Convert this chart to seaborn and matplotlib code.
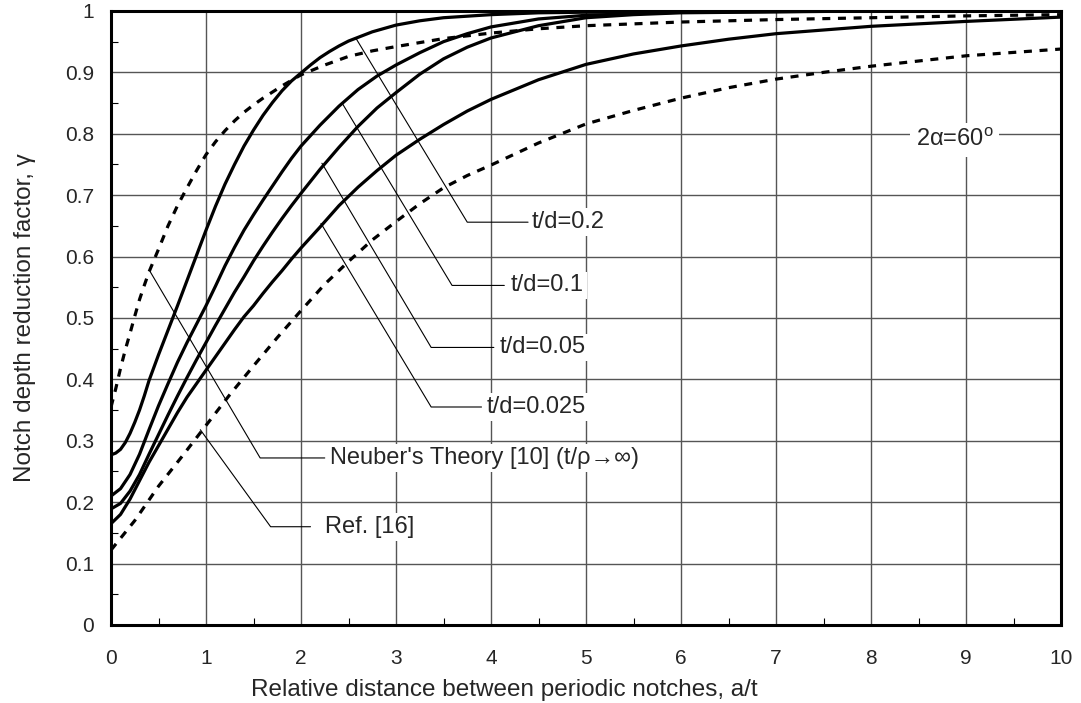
import matplotlib
matplotlib.use('Agg')
import matplotlib.pyplot as plt
from matplotlib.ticker import MultipleLocator, FuncFormatter
import seaborn as sns

# Valores (a/t -> gamma)
x_td02 = [0, 0.05, 0.1, 0.15, 0.2, 0.25, 0.3, 0.35, 0.4, 0.5, 0.6, 0.7, 0.8, 0.9, 1.0, 1.1, 1.2, 1.3, 1.4, 1.5, 1.6, 1.7, 1.8, 1.9, 2.0,
          2.1, 2.2, 2.3, 2.4, 2.5, 2.75, 3.0, 3.25, 3.5, 4.0, 4.5, 5.0, 6.0, 8.0, 10.0]
y_td02 = [0.277, 0.280, 0.286, 0.297, 0.312, 0.330, 0.350, 0.373, 0.398, 0.440, 0.480, 0.520, 0.561, 0.602, 0.643, 0.682, 0.718, 0.750,
          0.780, 0.806, 0.830, 0.851, 0.870, 0.886, 0.899, 0.912, 0.924, 0.934, 0.943, 0.951, 0.966, 0.977, 0.984, 0.989, 0.994, 0.997,
          0.998, 0.999, 1.0, 1.0]

x_td01 = [0, 0.1, 0.2, 0.3, 0.4, 0.5, 0.6, 0.7, 0.8, 0.9, 1.0, 1.1, 1.2, 1.3, 1.4, 1.5, 1.6, 1.7, 1.8, 1.9, 2.0, 2.2, 2.4, 2.6, 2.8,
          3.0, 3.25, 3.5, 3.75, 4.0, 4.5, 5.0, 6.0, 8.0, 10.0]
y_td01 = [0.210, 0.222, 0.245, 0.278, 0.318, 0.357, 0.393, 0.428, 0.460, 0.490, 0.520, 0.552, 0.585, 0.615, 0.643, 0.668, 0.692, 0.715,
          0.738, 0.760, 0.780, 0.814, 0.845, 0.872, 0.894, 0.912, 0.932, 0.950, 0.963, 0.974, 0.987, 0.993, 0.998, 1.0, 1.0]

x_td005 = [0, 0.1, 0.2, 0.3, 0.4, 0.5, 0.6, 0.7, 0.8, 0.9, 1.0, 1.1, 1.2, 1.3, 1.4, 1.5, 1.6, 1.7, 1.8, 1.9, 2.0, 2.2, 2.4, 2.6, 2.8,
           3.0, 3.25, 3.5, 3.75, 4.0, 4.5, 5.0, 5.5, 6.0, 8.0, 10.0]
y_td005 = [0.189, 0.198, 0.218, 0.245, 0.278, 0.310, 0.342, 0.373, 0.403, 0.432, 0.460, 0.488, 0.515, 0.542, 0.567, 0.593, 0.617, 0.640,
           0.662, 0.683, 0.703, 0.742, 0.778, 0.812, 0.842, 0.867, 0.897, 0.922, 0.941, 0.956, 0.976, 0.989, 0.994, 0.997, 1.0, 1.0]

x_td0025 = [0, 0.1, 0.2, 0.3, 0.4, 0.5, 0.6, 0.7, 0.8, 0.9, 1.0, 1.1, 1.2, 1.3, 1.4, 1.5, 1.6, 1.7, 1.8, 1.9, 2.0, 2.2, 2.4, 2.6, 2.8,
            3.0, 3.25, 3.5, 3.75, 4.0, 4.5, 5.0, 5.5, 6.0, 6.5, 7.0, 8.0, 9.0, 10.0]
y_td0025 = [0.165, 0.180, 0.205, 0.235, 0.265, 0.292, 0.319, 0.346, 0.371, 0.393, 0.415, 0.437, 0.459, 0.481, 0.502, 0.520, 0.540, 0.559,
            0.577, 0.596, 0.614, 0.648, 0.683, 0.713, 0.740, 0.765, 0.791, 0.815, 0.837, 0.856, 0.888, 0.913, 0.930, 0.943, 0.954, 0.963,
            0.975, 0.983, 0.990]

x_neuber = [0, 0.05, 0.1, 0.15, 0.2, 0.25, 0.3, 0.35, 0.4, 0.5, 0.6, 0.7, 0.8, 0.9, 1.0, 1.1, 1.2, 1.3, 1.4, 1.5, 1.6, 1.8, 2.0,
            2.25, 2.5, 2.75, 3.0, 3.5, 4.0, 4.5, 5.0, 6.0, 7.0, 8.0, 9.0, 10.0]
y_neuber = [0.355, 0.385, 0.418, 0.448, 0.475, 0.503, 0.530, 0.553, 0.575, 0.612, 0.650, 0.683, 0.712, 0.740, 0.766, 0.787, 0.805, 0.821,
            0.835, 0.847, 0.858, 0.878, 0.896, 0.912, 0.926, 0.935, 0.942, 0.955, 0.964, 0.971, 0.976, 0.982, 0.986, 0.989, 0.992, 0.994]

x_ref16 = [0, 0.25, 0.5, 0.75, 1.0, 1.25, 1.5, 1.75, 2.0, 2.25, 2.5, 2.75, 3.0, 3.25, 3.5, 3.75, 4.0, 4.5, 5.0, 5.5, 6.0, 6.5, 7.0,
           7.5, 8.0, 9.0, 10.0]
y_ref16 = [0.122, 0.170, 0.226, 0.275, 0.325, 0.375, 0.422, 0.468, 0.512, 0.555, 0.592, 0.627, 0.657, 0.686, 0.712, 0.732, 0.749, 0.785,
           0.816, 0.838, 0.858, 0.875, 0.889, 0.900, 0.910, 0.927, 0.938]

# Rótulos e linhas de chamada
labels = ['t/d=0.2', 't/d=0.1', 't/d=0.05', 't/d=0.025', "Neuber's Theory [10] (t/ρ→∞)", 'Ref. [16]']
leader_x = [[2.58, 3.75, 4.39], [2.44, 3.59, 4.14], [2.22, 3.37, 4.03], [2.21, 3.37, 3.90], [0.41, 1.57, 2.25], [0.94, 1.68, 2.10]]
leader_y = [[0.955, 0.656, 0.656], [0.848, 0.553, 0.553], [0.752, 0.452, 0.452], [0.654, 0.355, 0.355], [0.576, 0.272, 0.272], [0.318, 0.160, 0.160]]
text_x = [4.43, 4.21, 4.09, 3.95, 2.31, 2.25]

sns.set_style('white')
plt.rcParams['font.family'] = ['Liberation Sans', 'DejaVu Sans']
plt.rcParams['mathtext.fontset'] = 'custom'
plt.rcParams['mathtext.rm'] = 'Liberation Sans'

fig, ax = plt.subplots(figsize=(10.81, 7.03), dpi=100)
fig.subplots_adjust(left=0.1027, right=0.9815, top=0.9844, bottom=0.111)

for xs, ys in [(x_td02, y_td02), (x_td01, y_td01), (x_td005, y_td005), (x_td0025, y_td0025)]:
    sns.lineplot(x=xs, y=ys, ax=ax, color='black', lw=2.3, zorder=3)
for xs, ys in [(x_neuber, y_neuber), (x_ref16, y_ref16)]:
    sns.lineplot(x=xs, y=ys, ax=ax, color='black', lw=2.3, linestyle=(0, (2.5, 2.4)), zorder=3)

for lx, ly, tx, txt in zip(leader_x, leader_y, text_x, labels):
    ax.plot(lx, ly, color='black', lw=0.8, zorder=4)
    ax.text(tx, ly[-1], txt, fontsize=17, va='center', ha='left', zorder=5,
            bbox=dict(facecolor='white', edgecolor='none', pad=2))

ax.text(8.47, 0.79, '2α=60$^\\mathrm{o}$', fontsize=17, va='center', ha='left', zorder=5,
        bbox=dict(facecolor='white', edgecolor='none', pad=4))

ax.set_xlim(0, 10)
ax.set_ylim(0, 1)
ax.xaxis.set_major_locator(MultipleLocator(1))
ax.xaxis.set_minor_locator(MultipleLocator(0.5))
ax.yaxis.set_major_locator(MultipleLocator(0.1))
ax.yaxis.set_minor_locator(MultipleLocator(0.05))
ax.yaxis.set_major_formatter(FuncFormatter(lambda v, p: f'{v:g}'))
ax.grid(True, which='major', color='#555555', lw=1.0, zorder=1)
ax.set_axisbelow(True)
ax.tick_params(which='major', direction='in', length=0, labelsize=15)
ax.tick_params(axis='x', which='major', pad=17)
ax.tick_params(axis='y', which='major', pad=12)
ax.tick_params(which='minor', direction='in', length=5, width=0.8, color='black')
ax.tick_params(axis='x', which='minor', bottom=True)
ax.tick_params(axis='y', which='minor', left=True)
for s in ax.spines.values():
    s.set_linewidth(2.2)
    s.set_color('black')

ax.set_xlabel('Relative distance between periodic notches, a/t', fontsize=17.5, va='top')
ax.set_ylabel('Notch depth reduction factor, γ', fontsize=17.5)
ax.xaxis.set_label_coords(0.414, -0.088)
ax.yaxis.set_label_coords(-0.079, 0.5)

plt.savefig('out.png', dpi=100)
